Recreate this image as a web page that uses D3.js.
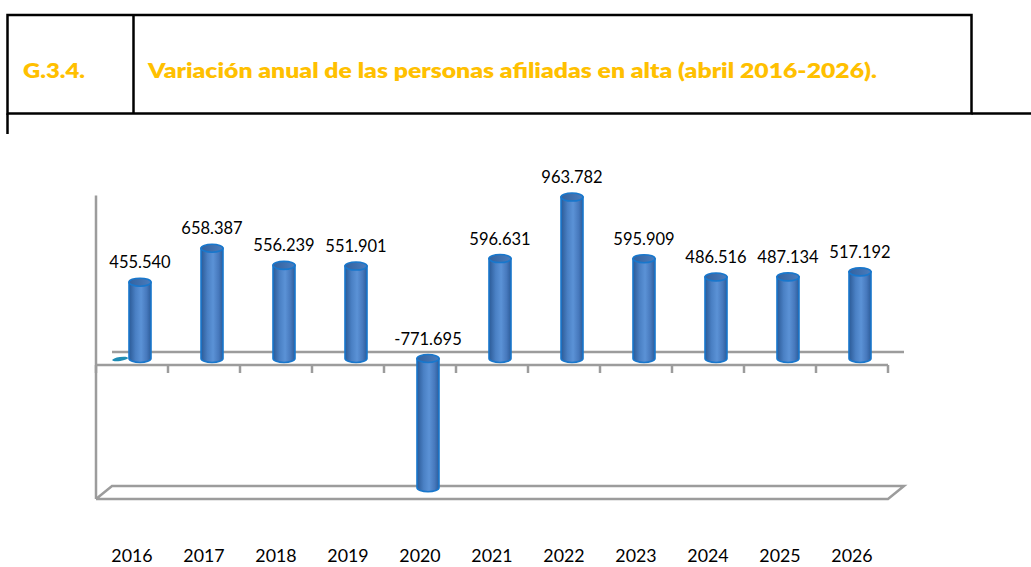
<!DOCTYPE html>
<html><head><meta charset="utf-8">
<script src="https://cdn.jsdelivr.net/npm/d3@7"></script>
<style>html,body{margin:0;padding:0;background:#fff;} svg{display:block;}</style>
</head><body>
<svg id="chart" width="1031" height="567"></svg>
<script>
// ---- data ----
const years = ["2016","2017","2018","2019","2020","2021","2022","2023","2024","2025","2026"];
const values = [455540, 658387, 556239, 551901, -771695, 596631, 963782, 595909, 486516, 487134, 517192];
const yDomain = [-800000, 1000000];
const titleCode = "G.3.4.";
const titleText = "Variación anual de las personas afiliadas en alta (abril 2016-2026).";

// ---- layout ----
const W = 1031, H = 567;
const svg = d3.select("#chart");
const plot = {left: 96, right: 888, top: 197.5, bottom: 499};
const depth = {dx: 16, dy: -13};
const mid = {dx: depth.dx / 2, dy: depth.dy / 2};
const axisColor = "#9c9c9c";

const x = d3.scaleBand().domain(years).range([plot.left, plot.right]).padding(0);
const y = d3.scaleLinear().domain(yDomain).range([plot.bottom, plot.top]);
const fmt = d3.formatLocale({decimal: ",", thousands: ".", grouping: [3], currency: ["", " €"], minus: "-"}).format(",d");

// ---- title box ----
const tb = svg.append("g").attr("fill", "none").attr("stroke", "#000").attr("stroke-width", 2.5);
tb.append("rect").attr("x", 7.5).attr("y", 15).attr("width", 964).attr("height", 98.5);
tb.append("line").attr("x1", 133.5).attr("x2", 133.5).attr("y1", 15).attr("y2", 113.5);
tb.append("line").attr("x1", 971.5).attr("x2", W).attr("y1", 113.5).attr("y2", 113.5);
tb.append("line").attr("x1", 7.5).attr("x2", 7.5).attr("y1", 113.5).attr("y2", 134);

const titleStyle = t => t.attr("fill", "#FFC000").attr("font-family", "Lato, 'Open Sans', sans-serif")
  .attr("font-weight", 800).attr("font-size", 20).attr("lengthAdjust", "spacingAndGlyphs");
svg.append("text").attr("x", 23).attr("y", 78).text(titleCode).call(titleStyle).attr("textLength", 62);
svg.append("text").attr("x", 148).attr("y", 78).text(titleText).call(titleStyle).attr("textLength", 729);

// ---- 3D axis frame ----
const g = svg.append("g").attr("stroke", axisColor).attr("stroke-width", 2.5).attr("fill", "none");
const y0 = y(0), yMin = y(yDomain[0]), yMax = y(yDomain[1]);
// left wall
g.append("line").attr("x1", plot.left).attr("x2", plot.left).attr("y1", yMax - 2).attr("y2", yMin);
// back zero line
g.append("line").attr("x1", plot.left + depth.dx).attr("x2", plot.right + depth.dx)
  .attr("y1", y0 + depth.dy).attr("y2", y0 + depth.dy);
// front zero line
g.append("line").attr("x1", plot.left).attr("x2", plot.right).attr("y1", y0).attr("y2", y0);
// ticks at band edges
const edges = years.map(d => x(d)).concat([plot.right]);
g.selectAll("line.tick").data(edges).join("line").attr("class", "tick")
  .attr("x1", d => d).attr("x2", d => d).attr("y1", y0).attr("y2", y0 + 8);
// floor
g.append("path").attr("d", d3.line()([
  [plot.left, yMin], [plot.right, yMin], [plot.right + depth.dx, yMin + depth.dy],
  [plot.left + depth.dx, yMin + depth.dy], [plot.left, yMin]
]));

// small teal mark at the left of zero plane
svg.append("ellipse").attr("cx", plot.left + depth.dx + 8).attr("cy", y0 + mid.dy + 0.5)
  .attr("rx", 8).attr("ry", 2).attr("fill", "#1f8db5")
  .attr("transform", `rotate(-8 ${plot.left + depth.dx + 8} ${y0 + mid.dy})`);

// ---- cylinders ----
const defs = svg.append("defs");
const grad = defs.append("linearGradient").attr("id", "cyl").attr("x1", "0%").attr("x2", "100%").attr("y1", "0%").attr("y2", "0%");
[["0%", "#2b5a96"], ["30%", "#4a80c4"], ["55%", "#5b92d6"], ["80%", "#4779bd"], ["100%", "#2d5c9a"]]
  .forEach(([o, c]) => grad.append("stop").attr("offset", o).attr("stop-color", c));
const gradTop = defs.append("linearGradient").attr("id", "cylTop").attr("x1", "0%").attr("x2", "100%");
[["0%", "#33629f"], ["100%", "#4a7cbd"]].forEach(([o, c]) => gradTop.append("stop").attr("offset", o).attr("stop-color", c));

const rx = 11, ry = 4;
const data = years.map((yr, i) => ({yr, v: values[i]}));
const cx = d => x(d.yr) + x.bandwidth() / 2 + mid.dx;
const topY = d => y(Math.max(0, d.v)) + mid.dy;
const botY = d => y(Math.min(0, d.v)) + mid.dy;

const bars = svg.append("g").selectAll("g").data(data).join("g");
bars.append("path")
  .attr("d", d => {
    const c = cx(d), t = topY(d), b = botY(d);
    return `M${c - rx},${t} L${c - rx},${b} A${rx},${ry} 0 0 0 ${c + rx},${b} L${c + rx},${t} Z`;
  })
  .attr("fill", "url(#cyl)").attr("stroke", "#1877cc").attr("stroke-width", 1.6);
bars.append("ellipse")
  .attr("cx", cx).attr("cy", topY).attr("rx", rx).attr("ry", ry)
  .attr("fill", "url(#cylTop)").attr("stroke", "#1877cc").attr("stroke-width", 1.6);

// ---- data labels ----
svg.append("g").selectAll("text").data(data).join("text")
  .attr("x", d => cx(d)).attr("y", d => topY(d) - ry - 10)
  .attr("text-anchor", "middle").attr("font-family", "Lato, Carlito, sans-serif")
  .attr("font-size", 16.5).attr("fill", "#000").text(d => fmt(d.v));

// ---- year labels ----
svg.append("g").selectAll("text").data(years).join("text")
  .attr("x", d => x(d) + x.bandwidth() / 2).attr("y", 562)
  .attr("text-anchor", "middle").attr("font-family", "Lato, Carlito, sans-serif")
  .attr("font-size", 17.8).attr("fill", "#000").text(d => d);
</script>
</body></html>
